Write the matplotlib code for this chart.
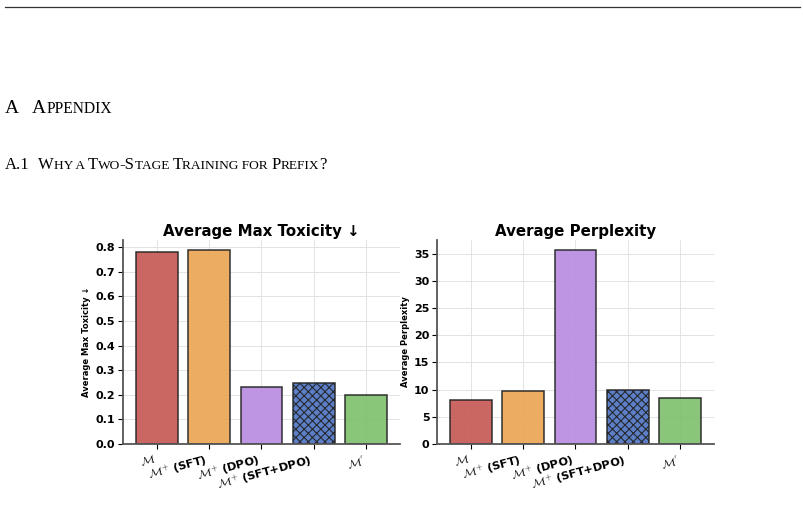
import matplotlib
matplotlib.use('Agg')
import matplotlib.pyplot as plt

# datos del grafico
modelos = [r'$\mathcal{M}$', r'$\mathcal{M}^{+}$ (SFT)', r'$\mathcal{M}^{+}$ (DPO)',
           r'$\mathcal{M}^{+}$ (SFT+DPO)', r"$\mathcal{M}^{'}$"]
toxicidad = [0.78, 0.79, 0.23, 0.25, 0.20]
perplejidad = [8.1, 9.7, 35.7, 10.0, 8.5]
colores = ['#C65A56', '#EBA655', '#B98CE0', '#4E74C4', '#7FC16E']
tramas = ['', '', '', 'xxxx', '']

plt.rcParams['mathtext.fontset'] = 'cm'
plt.rcParams['hatch.linewidth'] = 0.8

fig = plt.figure(figsize=(8.04, 5.08), dpi=100)

# linea superior de la pagina
fig.add_artist(plt.Line2D([5/804, 800/804], [1 - 7/508, 1 - 7/508], color='#333333', lw=0.9))


def small_caps(x, y, partes, tam):
    """escribe texto en versalitas: lista de (texto, es_grande)"""
    r = fig.canvas.get_renderer()
    px = x
    for txt, grande in partes:
        t = fig.text(px, y, txt, fontsize=tam if grande else tam * 0.8,
                     family='Liberation Serif', transform=None, va='baseline')
        bb = t.get_window_extent(renderer=r)
        px = bb.x1


H = 508
small_caps(5, H - 113, [('A', True)], 14)
small_caps(32, H - 113, [('A', True), ('PPENDIX', False)], 14)
small_caps(5, H - 169, [('A.1', True)], 12)
small_caps(38, H - 169, [('W', True), ('HY A ', False), ('T', True), ('WO', False), ('-S', True),
                         ('TAGE ', False), ('T', True), ('RAINING FOR ', False), ('P', True),
                         ('REFIX', False), ('?', True)], 12)

ax1 = fig.add_axes([123/804, 64/508, 277/804, 204/508])
ax2 = fig.add_axes([437/804, 64/508, 277/804, 204/508])

for ax, vals, titulo, ylab in [(ax1, toxicidad, 'Average Max Toxicity ↓', 'Average Max Toxicity ↓'),
                               (ax2, perplejidad, 'Average Perplexity', 'Average Perplexity')]:
    ax.set_axisbelow(True)
    ax.grid(True, color='#e3e3e3', lw=0.7)
    barras = ax.bar(range(len(vals)), vals, width=0.8, color=colores,
                    edgecolor='#222222', linewidth=1.1, alpha=0.92)
    for b, h in zip(barras, tramas):
        b.set_hatch(h)
    ax.set_title(titulo, fontsize=10.8, fontweight='bold', pad=3)
    ax.set_ylabel(ylab, fontsize=6, fontweight='bold', labelpad=3)
    ax.set_xticks(range(len(vals)))
    ax.set_xticklabels(modelos, rotation=15, ha='right', fontsize=8.2, fontweight='bold')
    ax.tick_params(axis='y', labelsize=8, pad=2)
    ax.tick_params(axis='x', pad=3)
    for lab in ax.get_yticklabels():
        lab.set_fontweight('bold')
    for s in ['top', 'right']:
        ax.spines[s].set_visible(False)
    for s in ['left', 'bottom']:
        ax.spines[s].set_color('#555555')
        ax.spines[s].set_linewidth(1.3)

ax1.set_yticks([0.0, 0.1, 0.2, 0.3, 0.4, 0.5, 0.6, 0.7, 0.8])
ax2.set_yticks([0, 5, 10, 15, 20, 25, 30, 35])

fig.savefig('out.png', dpi=100)
